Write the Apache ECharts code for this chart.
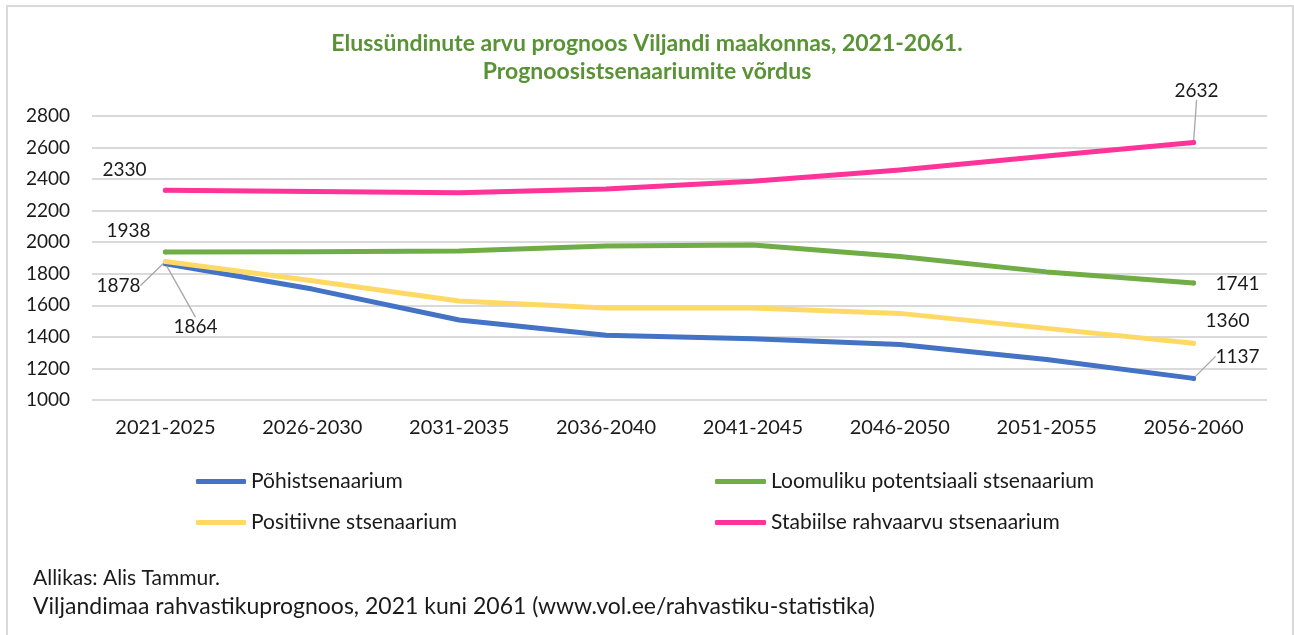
<!DOCTYPE html>
<html><head><meta charset="utf-8">
<script src="https://cdn.jsdelivr.net/npm/echarts@6/dist/echarts.min.js"></script>
<style>html,body{margin:0;padding:0;background:#fff}#c{width:1294px;height:635px}</style>
</head><body><div id="c"></div>
<script>
// ---- data ----
const categories = ['2021-2025','2026-2030','2031-2035','2036-2040','2041-2045','2046-2050','2051-2055','2056-2060'];
const seriesNames = ['Põhistsenaarium','Loomuliku potentsiaali stsenaarium','Positiivne stsenaarium','Stabiilse rahvaarvu stsenaarium'];
const pohistsenaarium = [1864, 1703, 1507, 1411, 1388, 1352, 1257, 1137];
const loomulik = [1938, 1940, 1945, 1976, 1983, 1909, 1812, 1741];
const positiivne = [1878, 1756, 1627, 1583, 1583, 1549, 1454, 1360];
const stabiilne = [2330, 2322, 2313, 2338, 2386, 2458, 2546, 2632];
const yMin = 1000, yMax = 2800, yStep = 200;
const titleText = 'Elussündinute arvu prognoos Viljandi maakonnas, 2021-2061.\nPrognoosistsenaariumite võrdus';
const sourceLines = ['Allikas: Alis Tammur.', 'Viljandimaa rahvastikuprognoos, 2021 kuni 2061 (www.vol.ee/rahvastiku-statistika)'];

// ---- styles ----
const FONT = 'Lato, "Liberation Sans", sans-serif';
const TXT = '#1a1a1a';
const colors = ['#4472C4', '#70AD47', '#FFD966', '#FF3399'];
// label offsets (dx, dy) relative to the point for first / last values, and whether a leader line is drawn
const labelCfg = [
  { first: [30, 63, true],  last: [44, -22, true] },
  { first: [-37, -21, false], last: [44, 1, false] },
  { first: [-47, 24, true], last: [34, -22, false] },
  { first: [-41, -20, false], last: [3, -52, true] }
];

function buildData(values, si) {
  const last = values.length - 1;
  return values.map((v, i) => {
    if (i !== 0 && i !== last) return { value: v, symbol: 'none' };
    const c = i === 0 ? labelCfg[si].first : labelCfg[si].last;
    return {
      value: v,
      symbol: 'circle',
      symbolSize: 5,
      label: { show: true },
      labelLine: { show: c[2] }
    };
  });
}

function makeSeries(name, values, si) {
  const last = values.length - 1;
  return {
    name: name,
    type: 'line',
    data: buildData(values, si),
    showSymbol: true,
    symbol: 'none',
    color: colors[si],
    lineStyle: { width: 5, color: colors[si], cap: 'round', join: 'round' },
    itemStyle: { color: colors[si] },
    emphasis: { disabled: true },
    label: {
      show: false,
      position: 'inside',
      fontFamily: FONT,
      fontSize: 19,
      color: TXT
    },
    labelLine: { show: false, lineStyle: { color: '#a6a6a6', width: 1.3 } },
    labelLayout: function (p) {
      const c = p.dataIndex === 0 ? labelCfg[si].first : (p.dataIndex === last ? labelCfg[si].last : [0, 0]);
      return { dx: c[0], dy: c[1] };
    },
    z: 2 + si,
    animation: false
  };
}

const chart = echarts.init(document.getElementById('c'), null, { renderer: 'canvas' });
chart.setOption({
  backgroundColor: '#fff',
  animation: false,
  title: {
    text: titleText,
    left: 'center',
    top: 25,
    textStyle: { fontFamily: FONT, fontWeight: 'bold', fontSize: 23, lineHeight: 28, color: '#5A9236' }
  },
  grid: { left: 92, right: 27, top: 116, bottom: 235, containLabel: false },
  xAxis: {
    type: 'category',
    data: categories,
    boundaryGap: true,
    axisLine: { show: false },
    axisTick: { show: false },
    axisLabel: { fontFamily: FONT, fontSize: 20, color: TXT, margin: 18 }
  },
  yAxis: {
    type: 'value',
    min: yMin, max: yMax, interval: yStep,
    axisLine: { show: false },
    axisTick: { show: false },
    axisLabel: { fontFamily: FONT, fontSize: 19, color: TXT, margin: 22, formatter: v => String(v) },
    splitLine: { lineStyle: { color: '#dadada', width: 2 } }
  },
  legend: [
    {
      data: [seriesNames[0], seriesNames[2]],
      orient: 'vertical', left: 196, top: 471, padding: 0,
      itemWidth: 50, itemHeight: 5, itemGap: 20, icon: 'roundRect',
      textStyle: { fontFamily: FONT, fontSize: 21, color: TXT, lineHeight: 21 }
    },
    {
      data: [seriesNames[1], seriesNames[3]],
      orient: 'vertical', left: 715, top: 471, padding: 0,
      itemWidth: 51, itemHeight: 5, itemGap: 20, icon: 'roundRect',
      textStyle: { fontFamily: FONT, fontSize: 21, color: TXT, lineHeight: 21 }
    }
  ],
  graphic: [
    { type: 'rect', shape: { x: 7, y: 6, width: 1286, height: 640 }, style: { fill: 'none', stroke: '#d9d9d9', lineWidth: 2 }, silent: true },
    { type: 'text', style: { text: sourceLines[0], x: 33, y: 578, verticalAlign: 'middle', font: '21px ' + FONT, fill: TXT } },
    { type: 'text', style: { text: sourceLines[1], x: 33, y: 607, verticalAlign: 'middle', font: '23px ' + FONT, fill: TXT } }
  ],
  series: [
    makeSeries(seriesNames[0], pohistsenaarium, 0),
    makeSeries(seriesNames[1], loomulik, 1),
    makeSeries(seriesNames[2], positiivne, 2),
    makeSeries(seriesNames[3], stabiilne, 3)
  ]
});
</script>
</body></html>
